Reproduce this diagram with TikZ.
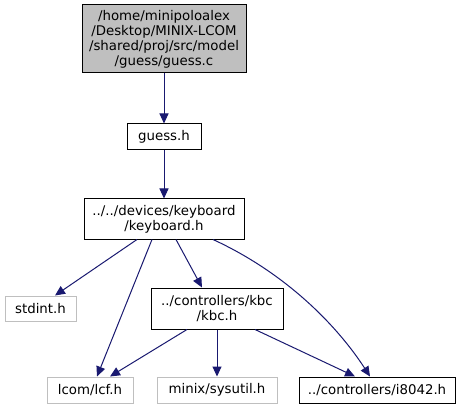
\documentclass[tikz,border=0pt]{standalone}
\usepackage{fontspec}
\setmainfont{DejaVu Sans}
\usetikzlibrary{arrows.meta}
\definecolor{edgeblue}{HTML}{191970}
\definecolor{boxgray}{HTML}{BFBFBF}
\begin{document}
\begin{tikzpicture}[x=0.75pt,y=-0.75pt,
  every node/.style={font=\fontsize{10}{11.25}\selectfont, align=center, inner sep=0pt, line width=0.75pt},
  filebox/.style={draw=black, fill=white},
  extbox/.style={draw=boxgray, fill=white},
  rootbox/.style={draw=black, fill=boxgray},
  dep/.style={draw=edgeblue, line width=0.75pt, -{Triangle[length=7.5pt,width=6.75pt]}, edgeblue}]
\useasboundingbox[fill=white] (0,0) rectangle (459,409);
\node[rootbox, minimum width=123pt, minimum height=51pt] (root) at (164,39) {/home/minipoloalex\\/Desktop/MINIX-LCOM\\/shared/proj/src/model\\/guess/guess.c};
\node[filebox, minimum width=55.5pt, minimum height=19.5pt] (guess) at (164,137) {guess.h};
\node[filebox, minimum width=120pt, minimum height=30pt] (kb) at (164,219) {../../devices/keyboard\\/keyboard.h};
\node[extbox, minimum width=53.25pt, minimum height=18.75pt] (stdint) at (40.5,308.5) {stdint.h};
\node[filebox, minimum width=99pt, minimum height=30.75pt] (kbc) at (217,308.5) {../controllers/kbc\\/kbc.h};
\node[extbox, minimum width=64.5pt, minimum height=19.5pt] (lcf) at (90,390) {lcom/lcf.h};
\node[extbox, minimum width=90pt, minimum height=19.5pt] (sysutil) at (217,390) {minix/sysutil.h};
\node[filebox, minimum width=117pt, minimum height=19.5pt] (i8042) at (377,390) {../controllers/i8042.h};
\draw[dep] (root.south) -- (guess.north);
\draw[dep] (guess.south) -- (kb.north);
\draw[dep] ([xshift=-20.25pt]kb.south) -- ([xshift=10.875pt]stdint.north);
\draw[dep] ([xshift=-9pt]kb.south) -- ([xshift=5.25pt]lcf.north);
\draw[dep] ([xshift=9pt]kb.south) -- ([xshift=-11.25pt]kbc.north);
\draw[dep] ([xshift=36.75pt]kb.south) .. controls (290,275) and (340,330) .. ([xshift=-5.25pt]i8042.north);
\draw[dep] ([xshift=-22.5pt]kbc.south) -- ([xshift=15pt]lcf.north);
\draw[dep] (kbc.south) -- (sysutil.north);
\draw[dep] ([xshift=28.5pt]kbc.south) -- ([xshift=-16.5pt]i8042.north);
\end{tikzpicture}
\end{document}
